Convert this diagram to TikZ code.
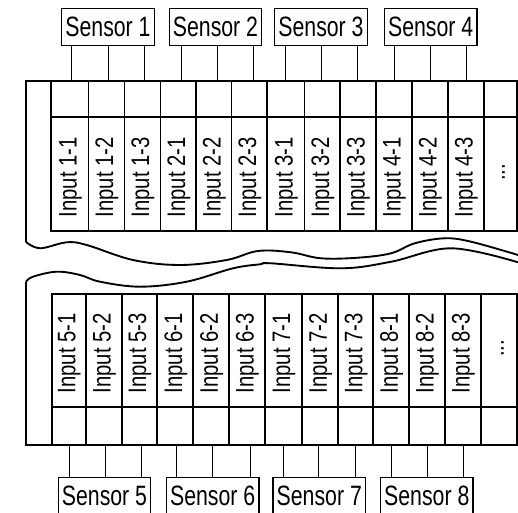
\documentclass[tikz,border=0pt]{standalone}
\usepackage{fontspec}
\newfontfamily\narrowsf[FakeStretch=0.76]{Liberation Sans}
\newfontfamily\narrowin[FakeStretch=0.8]{Liberation Sans}
\begin{document}
\begin{tikzpicture}[x=0.75pt,y=0.75pt,yscale=-1,xscale=1,
    sensorbox/.style={draw,line width=0.9pt,minimum width=69.4pt,minimum height=28pt,inner sep=0pt,font=\narrowsf\fontsize{21}{22}\selectfont},
    inlabel/.style={rotate=90,anchor=west,inner sep=0pt,font=\narrowin\fontsize{19}{20}\selectfont},
    dotlabel/.style={rotate=90,inner sep=0pt,font=\narrowin\fontsize{19}{20}\selectfont},
    frame/.style={line width=1.4pt},
    lead/.style={line width=0.6pt}]
\useasboundingbox (0,0) rectangle (518,513);

%Shape: Frame upper part
\draw [frame] (26,242) -- (26,81) -- (516.7,81) ;
\draw [frame] plot [smooth, tension=0.6] coordinates {(26,242) (40,248.3) (66.7,242.3) (86.7,245) (133,260) (180,265) (226.7,260) (258,251) (291,252.3) (321,258.3) (358,257.7) (391,253.3) (414.7,243.3) (444.7,238.3) (471,241.7) (518,255)} ;
%Shape: Grid upper part
\draw [frame] (51,81) rectangle (516.7,231) ;
\draw [frame] (51,117) -- (516.7,117) ;
\draw [frame] (88.5,81) -- (88.5,231) (124.5,81) -- (124.5,231) (160.5,81) -- (160.5,231) (196,81) -- (196,231) (231.5,81) -- (231.5,231) (267,81) -- (267,231) (304.5,81) -- (304.5,231) (340,81) -- (340,231) (376,81) -- (376,231) (412,81) -- (412,231) (448,81) -- (448,231) (484,81) -- (484,231) ;

%Shape: Frame lower part
\draw [frame] (26,281.7) -- (26,445) -- (516.7,445) ;
\draw [frame] plot [smooth, tension=0.6] coordinates {(26,281.7) (33,276.7) (56.7,271.7) (80,275) (100,281.7) (140,286.7) (186.7,281.7) (233,268.3) (260,264.3) (271,263.3) (341.3,268.3) (391.3,261.7) (451.3,248.3) (518,262.3)} ;
%Shape: Grid lower part
\draw [frame] (51.7,293.7) rectangle (516.7,445) ;
\draw [frame] (51.7,407.3) -- (516.7,407.3) ;
\draw [frame] (86,293.7) -- (86,445) (121.7,293.7) -- (121.7,445) (157.3,293.7) -- (157.3,445) (193.3,293.7) -- (193.3,445) (229,293.7) -- (229,445) (264.7,293.7) -- (264.7,445) (302.3,293.7) -- (302.3,445) (338,293.7) -- (338,445) (373.3,293.7) -- (373.3,445) (409,293.7) -- (409,445) (445,293.7) -- (445,445) (480.7,293.7) -- (480.7,445) ;

% Text Node
\node [inlabel] (in11) at (70.5,217.5) {Input 1-1};
\node [inlabel] (in12) at (107,217.5) {Input 1-2};
\node [inlabel] (in13) at (143,217.5) {Input 1-3};
\node [inlabel] (in21) at (178.8,217.5) {Input 2-1};
\node [inlabel] (in22) at (214.3,217.5) {Input 2-2};
\node [inlabel] (in23) at (249.8,217.5) {Input 2-3};
\node [inlabel] (in31) at (286.3,217.5) {Input 3-1};
\node [inlabel] (in32) at (322.8,217.5) {Input 3-2};
\node [inlabel] (in33) at (358.5,217.5) {Input 3-3};
\node [inlabel] (in41) at (394.5,217.5) {Input 4-1};
\node [inlabel] (in42) at (430.5,217.5) {Input 4-2};
\node [inlabel] (in43) at (466.5,217.5) {Input 4-3};
\node [dotlabel] (moreup) at (503.5,172.5) {...};
% Text Node
\node [inlabel] (in51) at (69.4,393.5) {Input 5-1};
\node [inlabel] (in52) at (104.4,393.5) {Input 5-2};
\node [inlabel] (in53) at (140,393.5) {Input 5-3};
\node [inlabel] (in61) at (175.8,393.5) {Input 6-1};
\node [inlabel] (in62) at (211.7,393.5) {Input 6-2};
\node [inlabel] (in63) at (247.4,393.5) {Input 6-3};
\node [inlabel] (in71) at (284,393.5) {Input 7-1};
\node [inlabel] (in72) at (320.7,393.5) {Input 7-2};
\node [inlabel] (in73) at (356.2,393.5) {Input 7-3};
\node [inlabel] (in81) at (391.7,393.5) {Input 8-1};
\node [inlabel] (in82) at (427.5,393.5) {Input 8-2};
\node [inlabel] (in83) at (463.4,393.5) {Input 8-3};
\node [dotlabel] (moredown) at (502.5,348.4) {...};

% Sensors
\node [sensorbox] (s1) at (108,27) {Sensor 1};
\node [sensorbox] (s2) at (215.5,27) {Sensor 2};
\node [sensorbox] (s3) at (321,27) {Sensor 3};
\node [sensorbox] (s4) at (430.7,27) {Sensor 4};
\node [sensorbox] (s5) at (104.5,496.2) {Sensor 5};
\node [sensorbox] (s6) at (212.7,496.2) {Sensor 6};
\node [sensorbox] (s7) at (319.3,496.2) {Sensor 7};
\node [sensorbox] (s8) at (426.8,496.2) {Sensor 8};

% Lead ends on the grid
\coordinate (p11) at (71.7,81); \coordinate (p12) at (108.3,81); \coordinate (p13) at (144.3,81);
\coordinate (p21) at (181,81); \coordinate (p22) at (217,81); \coordinate (p23) at (253.3,81);
\coordinate (p31) at (285.3,81); \coordinate (p32) at (321.3,81); \coordinate (p33) at (357,81);
\coordinate (p41) at (394,81); \coordinate (p42) at (430.7,81); \coordinate (p43) at (466.3,81);
\coordinate (p51) at (69,445); \coordinate (p52) at (105,445); \coordinate (p53) at (141.7,445);
\coordinate (p61) at (176.7,445); \coordinate (p62) at (212.7,445); \coordinate (p63) at (250,445);
\coordinate (p71) at (283,445); \coordinate (p72) at (318.3,445); \coordinate (p73) at (355,445);
\coordinate (p81) at (391.3,445); \coordinate (p82) at (427,445); \coordinate (p83) at (463,445);

%Straight Lines
\draw [lead] (s1.south -| p11) -- (p11) (s1.south -| p12) -- (p12) (s1.south -| p13) -- (p13) ;
\draw [lead] (s2.south -| p21) -- (p21) (s2.south -| p22) -- (p22) (s2.south -| p23) -- (p23) ;
\draw [lead] (s3.south -| p31) -- (p31) (s3.south -| p32) -- (p32) (s3.south -| p33) -- (p33) ;
\draw [lead] (s4.south -| p41) -- (p41) (s4.south -| p42) -- (p42) (s4.south -| p43) -- (p43) ;
\draw [lead] (s5.north -| p51) -- (p51) (s5.north -| p52) -- (p52) (s5.north -| p53) -- (p53) ;
\draw [lead] (s6.north -| p61) -- (p61) (s6.north -| p62) -- (p62) (s6.north -| p63) -- (p63) ;
\draw [lead] (s7.north -| p71) -- (p71) (s7.north -| p72) -- (p72) (s7.north -| p73) -- (p73) ;
\draw [lead] (s8.north -| p81) -- (p81) (s8.north -| p82) -- (p82) (s8.north -| p83) -- (p83) ;
\end{tikzpicture}
\end{document}
